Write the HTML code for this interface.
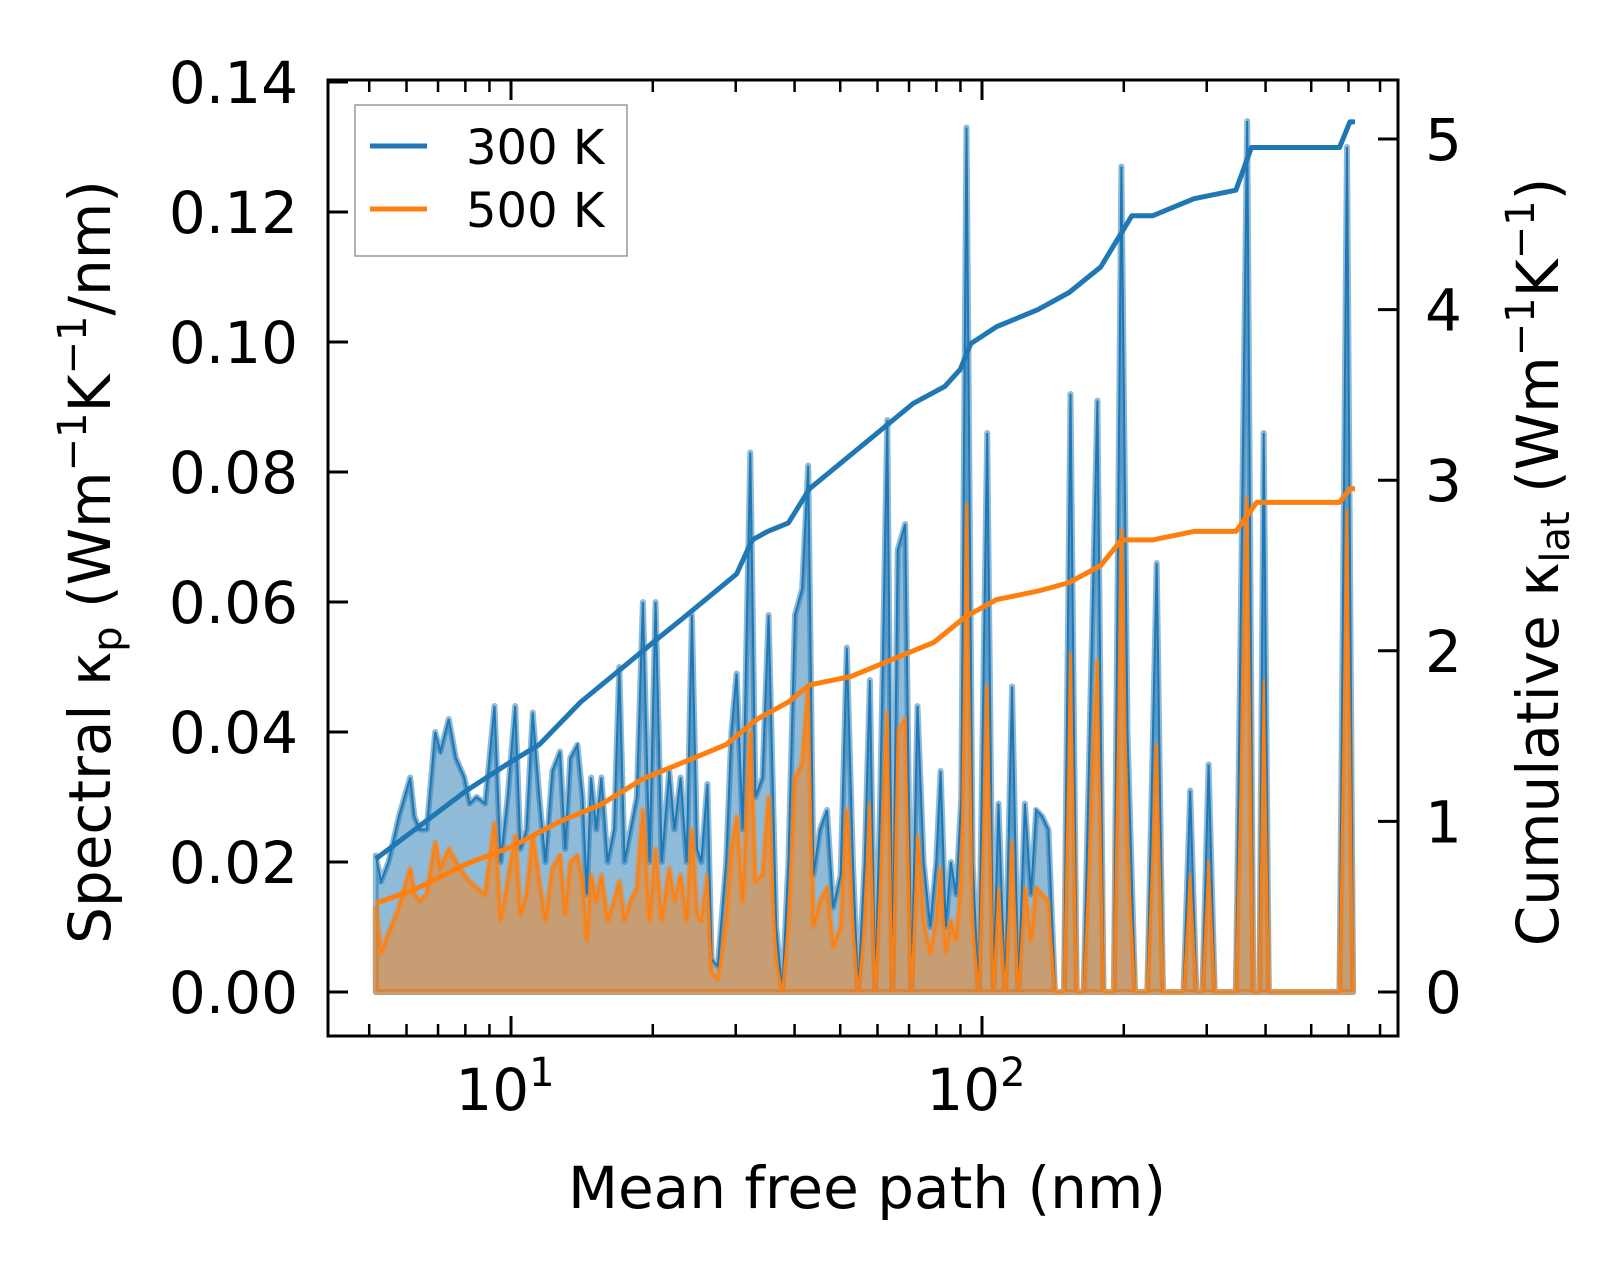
<!DOCTYPE html>
<html><head><meta charset="utf-8"><style>
html,body{margin:0;padding:0;background:#fff;}
svg{display:block;font-family:"DejaVu Sans","Liberation Sans",sans-serif;}
</style></head><body>
<svg id="chart" width="1623" height="1274" viewBox="0 0 1623 1274" xmlns="http://www.w3.org/2000/svg">
<g id="plot"></g>
<g id="axes"></g>
</svg>
<script>
// log10(mean free path, nm) for spectral points
const specLogMfp = [0.713,0.724,0.740,0.762,0.786,0.795,0.806,0.821,0.839,0.850,0.868,0.883,0.901,0.912,0.927,0.945,0.965,0.978,0.993,1.009,1.020,1.033,1.046,1.060,1.073,1.088,1.104,1.115,1.126,1.141,1.152,1.161,1.170,1.181,1.192,1.205,1.219,1.230,1.241,1.254,1.267,1.280,1.294,1.307,1.320,1.336,1.347,1.360,1.373,1.384,1.395,1.404,1.417,1.426,1.439,1.457,1.468,1.479,1.492,1.508,1.519,1.534,1.547,1.563,1.576,1.589,1.603,1.618,1.631,1.642,1.656,1.671,1.684,1.700,1.713,1.726,1.737,1.751,1.762,1.773,1.784,1.799,1.810,1.821,1.837,1.850,1.863,1.876,1.890,1.903,1.912,1.923,1.934,1.945,1.956,1.967,1.980,1.993,2.011,2.024,2.035,2.049,2.064,2.077,2.091,2.104,2.115,2.128,2.141,2.155,2.174,2.188,2.201,2.216,2.245,2.258,2.280,2.296,2.309,2.325,2.351,2.371,2.384,2.428,2.442,2.455,2.468,2.481,2.494,2.539,2.563,2.576,2.589,2.598,2.609,2.759,2.775,2.788];
const spec300 = [0.021,0.017,0.020,0.027,0.033,0.027,0.025,0.025,0.040,0.037,0.042,0.036,0.033,0.029,0.030,0.029,0.044,0.020,0.030,0.044,0.022,0.025,0.043,0.030,0.020,0.034,0.037,0.022,0.036,0.038,0.030,0.015,0.033,0.025,0.033,0.020,0.025,0.050,0.020,0.025,0.030,0.060,0.020,0.060,0.020,0.034,0.025,0.033,0.020,0.058,0.022,0.020,0.032,0.005,0.004,0.020,0.040,0.049,0.025,0.083,0.030,0.033,0.058,0.010,0.000,0.020,0.058,0.062,0.081,0.018,0.025,0.028,0.013,0.018,0.053,0.020,0.000,0.020,0.048,0.000,0.030,0.088,0.000,0.068,0.072,0.000,0.044,0.020,0.010,0.020,0.034,0.010,0.020,0.015,0.030,0.133,0.020,0.000,0.086,0.000,0.029,0.000,0.047,0.000,0.029,0.015,0.028,0.027,0.025,0,0,0.092,0,0,0.091,0,0,0.127,0.040,0,0,0.066,0,0,0.031,0,0,0.035,0,0,0.134,0,0,0.086,0,0,0.130,0];
const spec500 = [0.013,0.006,0.009,0.013,0.019,0.015,0.014,0.015,0.023,0.019,0.022,0.020,0.018,0.017,0.016,0.015,0.026,0.011,0.017,0.024,0.012,0.015,0.024,0.017,0.011,0.019,0.021,0.012,0.020,0.021,0.017,0.008,0.018,0.014,0.018,0.011,0.014,0.017,0.011,0.014,0.016,0.028,0.011,0.022,0.011,0.019,0.014,0.018,0.011,0.025,0.012,0.011,0.018,0.003,0.002,0.011,0.022,0.027,0.014,0.040,0.017,0.018,0.030,0.005,0.000,0.011,0.033,0.035,0.047,0.010,0.014,0.016,0.007,0.010,0.028,0.011,0.000,0.011,0.029,0.000,0.017,0.043,0.000,0.040,0.042,0.000,0.024,0.011,0.006,0.011,0.019,0.006,0.011,0.008,0.017,0.075,0.011,0.000,0.047,0.000,0.016,0.000,0.023,0.000,0.016,0.008,0.016,0.015,0.014,0,0,0.052,0,0,0.051,0,0,0.071,0.022,0,0,0.038,0,0,0.018,0,0,0.020,0,0,0.076,0,0,0.048,0,0,0.074,0];
const cum300LogMfp = [0.713,0.795,0.905,1.0,1.060,1.148,1.236,1.302,1.369,1.435,1.479,1.512,1.545,1.589,1.634,1.678,1.722,1.766,1.810,1.854,1.921,1.954,1.976,2.031,2.119,2.185,2.252,2.285,2.318,2.362,2.450,2.539,2.572,2.759,2.781,2.792];
const cum300 = [0.78,0.95,1.18,1.35,1.45,1.70,1.90,2.05,2.20,2.35,2.45,2.65,2.70,2.75,2.95,3.05,3.15,3.25,3.35,3.45,3.55,3.65,3.80,3.90,4.00,4.10,4.25,4.40,4.55,4.55,4.65,4.70,4.95,4.95,5.10,5.10];
const cum500LogMfp = [0.713,0.795,0.905,1.0,1.104,1.192,1.280,1.369,1.413,1.457,1.523,1.589,1.634,1.722,1.810,1.898,1.965,2.031,2.119,2.185,2.252,2.296,2.362,2.450,2.539,2.583,2.759,2.781,2.792];
const cum500 = [0.52,0.60,0.75,0.85,1.00,1.10,1.25,1.35,1.40,1.45,1.60,1.70,1.80,1.85,1.95,2.05,2.20,2.30,2.35,2.40,2.50,2.65,2.65,2.70,2.70,2.87,2.87,2.95,2.95];
const leftTicks = [0,0.02,0.04,0.06,0.08,0.10,0.12,0.14];
const leftTickLabels = ["0.00","0.02","0.04","0.06","0.08","0.10","0.12","0.14"];
const rightTicks = [0,1,2,3,4,5];
const xMajorLog = [1,2];
const xMinorVals = [5,6,7,8,9,20,30,40,50,60,70,80,90,200,300,400,500,600,700];

const L=328,R=1398,T=80,B=1036;
const xs = u => 511 + (u-1)*471;
const yl = v => 992 - v*6500;
const yr = k => 992 - k*170.6;
const NS="http://www.w3.org/2000/svg";
const plot=document.getElementById('plot'), axes=document.getElementById('axes');
function mk(tag, attrs, parent){const e=document.createElementNS(NS,tag);for(const k in attrs)e.setAttribute(k,attrs[k]);parent.appendChild(e);return e;}

function specPts(vals){return specLogMfp.map((u,i)=>xs(u).toFixed(1)+','+yl(vals[i]).toFixed(1));}
function fillPath(vals){const p=specPts(vals);return 'M'+xs(specLogMfp[0])+','+yl(0)+' L'+p.join(' L')+' L'+xs(specLogMfp[specLogMfp.length-1])+','+yl(0)+' Z';}

const f3=mk('path',{d:fillPath(spec300),fill:'rgba(31,119,180,0.5)',stroke:'rgba(31,119,180,0.5)','stroke-width':6,'stroke-linejoin':'round'},plot);


const f5=mk('path',{d:fillPath(spec500),fill:'rgba(255,127,14,0.5)',stroke:'rgba(255,127,14,0.5)','stroke-width':6,'stroke-linejoin':'round'},plot);


const l3=mk('polyline',{points:specPts(spec300).join(' '),fill:'none',stroke:'#1f77b4','stroke-width':2},plot);


const l5=mk('polyline',{points:specPts(spec500).join(' '),fill:'none',stroke:'#ff7f0e','stroke-width':2},plot);


const c3=mk('polyline',{points:cum300LogMfp.map((u,i)=>xs(u).toFixed(1)+','+yr(cum300[i]).toFixed(1)).join(' '),fill:'none',stroke:'#1f77b4','stroke-width':5,'stroke-linejoin':'round'},plot);


const c5=mk('polyline',{points:cum500LogMfp.map((u,i)=>xs(u).toFixed(1)+','+yr(cum500[i]).toFixed(1)).join(' '),fill:'none',stroke:'#ff7f0e','stroke-width':5,'stroke-linejoin':'round'},plot);



const fr=mk('rect',{x:L,y:T,width:R-L,height:B-T,fill:'none',stroke:'#000','stroke-width':3},axes);


leftTicks.forEach((v,i)=>{
  const y=yl(v);
  const t=mk('line',{x1:L,x2:L+20,y1:y,y2:y,stroke:'#000','stroke-width':3},axes);
  
  
  const tx=mk('text',{x:298,y:y+21,'text-anchor':'end','font-size':58},axes);
  tx.textContent=leftTickLabels[i];
  
  
});
rightTicks.forEach(k=>{
  const y=yr(k);
  const t=mk('line',{x1:R-20,x2:R,y1:y,y2:y,stroke:'#000','stroke-width':3},axes);
  
  
  const tx=mk('text',{x:1425,y:y+21,'font-size':58},axes);
  tx.textContent=String(k);
  
  
});
xMajorLog.forEach(e=>{
  const x=xs(e);
  [[B,B-20],[T,T+20]].forEach(([a,b])=>{const t=mk('line',{x1:x,x2:x,y1:a,y2:b,stroke:'#000','stroke-width':3},axes);
    
    });
  const tx=mk('text',{x:x-6,y:1110,'text-anchor':'middle','font-size':58},axes);
  tx.textContent='10';
  
  
  const sp=mk('tspan',{dy:-24,'font-size':40},tx);sp.textContent=String(e);
});
xMinorVals.forEach(v=>{
  const x=xs(Math.log10(v));
  [[B,B-12],[T,T+12]].forEach(([a,b])=>{const t=mk('line',{x1:x,x2:x,y1:a,y2:b,stroke:'#000','stroke-width':2.5},axes);
    
    });
});
</script>
<svg style="position:absolute;left:0;top:0" width="1623" height="1274">
<g font-family="DejaVu Sans, Liberation Sans, sans-serif">
<text x="867" y="1208" text-anchor="middle" font-size="58">Mean free path (nm)</text>
<text transform="translate(110,562) rotate(-90)" text-anchor="middle" font-size="58">Spectral κ<tspan font-size="40" dy="11">p</tspan><tspan dy="-11"> (Wm</tspan><tspan font-size="40" dy="-24">−1</tspan><tspan dy="24">K</tspan><tspan font-size="40" dy="-24">−1</tspan><tspan dy="24">/nm)</tspan></text>
<text transform="translate(1558,562) rotate(-90)" text-anchor="middle" font-size="58">Cumulative κ<tspan font-size="40" dy="11">lat</tspan><tspan dy="-11"> (Wm</tspan><tspan font-size="40" dy="-24">−1</tspan><tspan dy="24">K</tspan><tspan font-size="40" dy="-24">−1</tspan><tspan dy="24">)</tspan></text>
<g>
<rect x="355" y="105" width="272" height="151" fill="rgba(255,255,255,0.8)" stroke="#999" stroke-width="1.5"/>
<line x1="370" x2="427" y1="146" y2="146" stroke="#1f77b4" stroke-width="5"/>
<text x="466" y="164" font-size="48">300 K</text>
<line x1="370" x2="427" y1="209" y2="209" stroke="#ff7f0e" stroke-width="5"/>
<text x="466" y="227" font-size="48">500 K</text>
</g></g></svg>
</body></html>
